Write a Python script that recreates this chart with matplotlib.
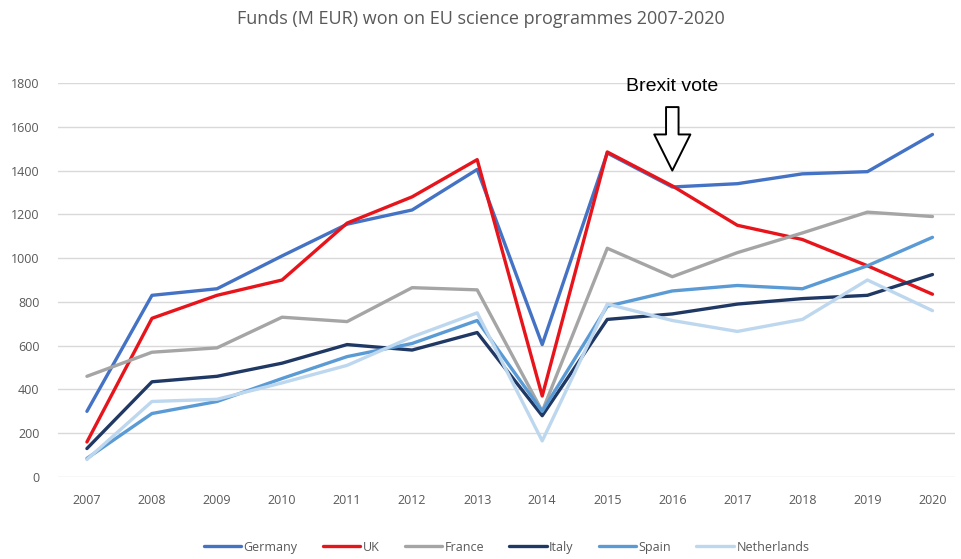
import matplotlib
matplotlib.use("Agg")
import matplotlib.pyplot as plt

years = list(range(2007, 2021))
germany = [300, 830, 860, 1010, 1155, 1220, 1405, 605, 1480, 1325, 1340, 1385, 1395, 1565]
uk = [160, 725, 830, 900, 1160, 1280, 1450, 370, 1485, 1330, 1150, 1085, 965, 835]
france = [460, 570, 590, 730, 710, 865, 855, 300, 1045, 915, 1025, 1115, 1210, 1190]
italy = [130, 435, 460, 520, 605, 580, 660, 280, 720, 745, 790, 815, 830, 925]
spain = [85, 290, 345, 450, 550, 610, 715, 300, 780, 850, 875, 860, 965, 1095]
netherlands = [80, 345, 355, 430, 510, 640, 750, 165, 790, 715, 665, 720, 900, 760]

series = [("Germany", germany, "#4472C4"), ("UK", uk, "#E8141B"),
          ("France", france, "#A5A5A5"), ("Italy", italy, "#203864"),
          ("Spain", spain, "#5B9BD5"), ("Netherlands", netherlands, "#BDD7EE")]

plt.rcParams["font.family"] = ["Open Sans", "DejaVu Sans"]
txt = "#595959"

fig = plt.figure(figsize=(9.61, 5.59), dpi=100)
ax = fig.add_axes([0.060, 0.1467, 0.934, 0.7048])

for name, vals, col in series:
    ax.plot(years, vals, color=col, lw=2.4, label=name, solid_capstyle="round")

ax.set_ylim(0, 1800)
ax.set_xlim(2006.55, 2020.35)
ax.set_yticks(range(0, 1801, 200))
ax.set_xticks(years)
ax.grid(axis="y", color="#D9D9D9", lw=1)
ax.set_axisbelow(True)
for s in ax.spines.values():
    s.set_visible(False)
ax.tick_params(length=0, labelsize=9, labelcolor=txt)
ax.tick_params(axis="y", pad=13)
ax.tick_params(axis="x", pad=12)

fig.suptitle("Funds (M EUR) won on EU science programmes 2007-2020",
             x=0.5, y=0.982, fontsize=13, color=txt)

# Brexit annotation
ax.annotate("", xy=(2016, 1400), xytext=(2016, 1690),
            arrowprops=dict(arrowstyle="simple,head_width=1.3,head_length=1.3,tail_width=0.45",
                            fc="white", ec="black", lw=1.4, mutation_scale=20,
                            shrinkA=0, shrinkB=0))
ax.text(2016, 1785, "Brexit vote", ha="center", va="center", fontsize=14,
        family="Liberation Sans", color="black", clip_on=False)

ax.legend(loc="center", bbox_to_anchor=(0.5, -0.178), ncol=6, frameon=False,
          fontsize=9, labelcolor=txt, handlelength=3.0, handletextpad=0.2,
          columnspacing=2.0)

fig.savefig("out.png", dpi=100)
